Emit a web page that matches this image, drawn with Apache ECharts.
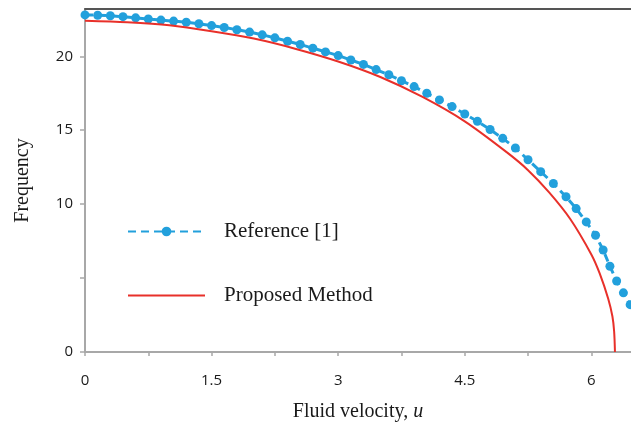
<!DOCTYPE html>
<html>
<head>
<meta charset="utf-8">
<script src="https://cdn.jsdelivr.net/npm/echarts@6/dist/echarts.min.js"></script>
<style>
html,body{margin:0;padding:0;background:#fff;}
#chart{width:631px;height:439px;}
</style>
</head>
<body>
<div id="chart"></div>
<script>
// Reference [1] (blue dashed with markers)
var refU = [0, 0.15, 0.3, 0.45, 0.6, 0.75, 0.9, 1.05, 1.2, 1.35, 1.5, 1.65, 1.8, 1.95, 2.1, 2.25, 2.4, 2.55, 2.7, 2.85, 3.0, 3.15, 3.3, 3.45, 3.6, 3.75, 3.9, 4.05, 4.2, 4.35, 4.5, 4.65, 4.8, 4.95, 5.1, 5.25, 5.4, 5.55, 5.7, 5.82, 5.94, 6.05, 6.14, 6.22, 6.3, 6.38, 6.46];
var refF = [22.8, 22.78, 22.74, 22.68, 22.6, 22.52, 22.45, 22.38, 22.3, 22.2, 22.08, 21.95, 21.8, 21.64, 21.45, 21.25, 21.02, 20.8, 20.55, 20.3, 20.05, 19.75, 19.45, 19.1, 18.75, 18.35, 17.95, 17.5, 17.05, 16.6, 16.1, 15.6, 15.05, 14.45, 13.8, 13.0, 12.2, 11.4, 10.5, 9.7, 8.8, 7.9, 6.9, 5.8, 4.8, 4.0, 3.2];
// Proposed Method (red solid)
var propU = [0, 0.5, 1, 1.5, 2, 2.5, 3, 3.5, 4, 4.5, 5, 5.25, 5.5, 5.75, 6, 6.1, 6.2, 6.25, 6.27, 6.28];
var propF = [22.4, 22.3, 22.1, 21.7, 21.2, 20.5, 19.65, 18.6, 17.25, 15.6, 13.5, 12.3, 10.8, 9.0, 6.6, 5.3, 3.6, 2.4, 1.4, 0];
// Axis ticks
var xTickLabels = [0, 1.5, 3, 4.5, 6];
var yTickLabels = [0, 10, 15, 20];

function zip(a, b) { return a.map(function (v, i) { return [v, b[i]]; }); }

var chart = echarts.init(document.getElementById('chart'), null, {renderer: 'canvas'});
var axisGray = '#a8a8a8';
chart.setOption({
  animation: false,
  backgroundColor: '#ffffff',
  grid: {left: 85, right: 0, top: 9, bottom: 87, containLabel: false},
  legend: {
    orient: 'vertical',
    left: 122, top: 216,
    itemWidth: 77, itemHeight: 12,
    itemGap: 43,
    textStyle: {fontFamily: 'Liberation Serif', fontSize: 21, color: '#1a1a1a', padding: [0, 0, 0, 14]},
    data: [
      {name: 'Reference [1]'},
      {name: 'Proposed Method', itemStyle: {opacity: 0}}
    ]
  },
  xAxis: [{
    type: 'value', min: 0, max: 6.47, interval: 0.75,
    name: 'Fluid velocity, {i|u}',
    nameLocation: 'middle', nameGap: 50,
    nameTextStyle: {fontFamily: 'Liberation Serif', fontSize: 20, color: '#1a1a1a',
      rich: {i: {fontFamily: 'Liberation Serif', fontStyle: 'italic', fontSize: 20, color: '#1a1a1a'}}},
    axisLine: {show: true, lineStyle: {color: axisGray, width: 2}},
    axisTick: {show: true, inside: false, length: 4, lineStyle: {color: axisGray, width: 1.5}},
    splitLine: {show: false},
    axisLabel: {
      margin: 21, fontFamily: 'Open Sans', fontSize: 15, color: '#1a1a1a', showMaxLabel: false,
      formatter: function (v) {
        for (var i = 0; i < xTickLabels.length; i++) { if (Math.abs(v - xTickLabels[i]) < 1e-6) return String(xTickLabels[i]); }
        return '';
      }
    }
  }, {
    type: 'value', position: 'top', min: 0, max: 6.47,
    axisLine: {show: true, lineStyle: {color: '#555', width: 2}},
    axisTick: {show: false}, axisLabel: {show: false}, splitLine: {show: false}
  }],
  yAxis: {
    type: 'value', min: 0, max: 23.2, interval: 5,
    name: 'Frequency', nameLocation: 'middle', nameGap: 52, nameRotate: 90,
    nameTextStyle: {fontFamily: 'Liberation Serif', fontSize: 20, color: '#1a1a1a'},
    axisLine: {show: true, lineStyle: {color: axisGray, width: 2}},
    axisTick: {show: true, inside: false, length: 5, lineStyle: {color: axisGray, width: 1.5}},
    splitLine: {show: false},
    axisLabel: {
      margin: 12, fontFamily: 'Open Sans', fontSize: 15, color: '#1a1a1a', showMaxLabel: false,
      formatter: function (v) { return yTickLabels.indexOf(v) >= 0 ? String(v) : ''; }
    }
  },
  series: [{
    name: 'Reference [1]', type: 'line', xAxisIndex: 0,
    data: zip(refU, refF),
    symbol: 'circle', symbolSize: 9, showSymbol: true,
    itemStyle: {color: '#22a0dc'},
    lineStyle: {color: '#22a0dc', width: 3, type: [8, 5]},
    z: 2
  }, {
    name: 'Proposed Method', type: 'line', xAxisIndex: 0,
    data: zip(propU, propF),
    symbol: 'none', smooth: 0.3,
    itemStyle: {color: '#e8302a'},
    lineStyle: {color: '#e8302a', width: 2},
    z: 3
  }]
});
</script>
</body>
</html>
